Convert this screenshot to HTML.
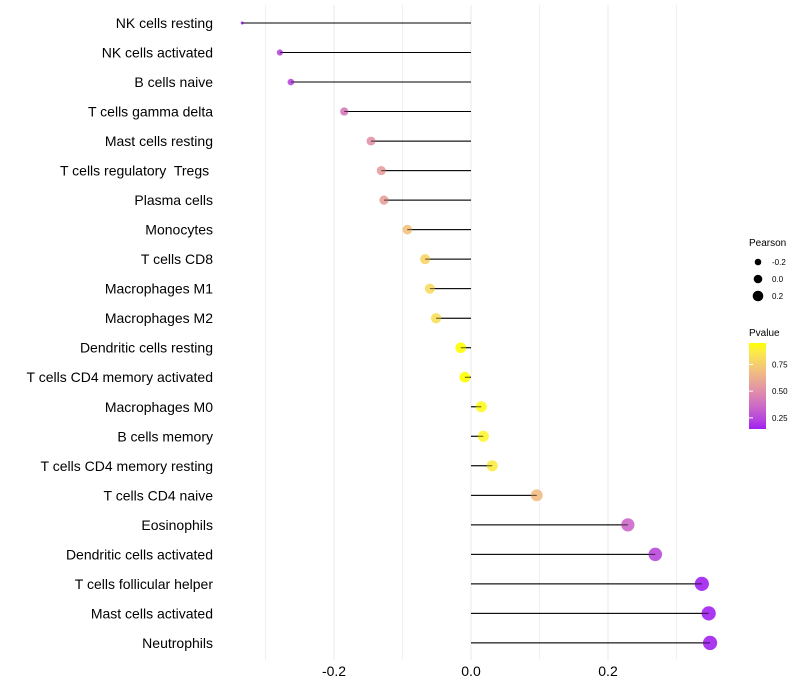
<!DOCTYPE html>
<html><head><meta charset="utf-8"><style>
body{margin:0;background:#fff;}
svg{display:block;font-family:"Liberation Sans",sans-serif;}
svg text{white-space:pre;}
</style></head><body>
<svg id="chart" width="800" height="700">
<defs><linearGradient id="pg" x1="0" y1="1" x2="0" y2="0"></linearGradient></defs>
<g id="grid"></g>
<g id="marks"></g>
<g id="ylabels"></g>
<g id="xlabels"></g>
<g>
<text x="749" y="246" font-size="10" fill="#000">Pearson</text>
<g id="sizeleg"></g>
</g>
<g>
<text x="749" y="336" font-size="10" fill="#000">Pvalue</text>
<rect x="749" y="343" width="17" height="86" fill="url(#pg)"/>
<g id="colleg"></g>
</g>
</svg>
<script>
const categories=["NK cells resting","NK cells activated","B cells naive","T cells gamma delta","Mast cells resting","T cells regulatory  Tregs ","Plasma cells","Monocytes","T cells CD8","Macrophages M1","Macrophages M2","Dendritic cells resting","T cells CD4 memory activated","Macrophages M0","B cells memory","T cells CD4 memory resting","T cells CD4 naive","Eosinophils","Dendritic cells activated","T cells follicular helper","Mast cells activated","Neutrophils"];
const pearson=[-0.334,-0.279,-0.263,-0.185,-0.146,-0.131,-0.127,-0.093,-0.067,-0.060,-0.051,-0.015,-0.009,0.015,0.018,0.031,0.096,0.229,0.269,0.337,0.347,0.349];
const pvalue=[0.15,0.25,0.25,0.42,0.52,0.56,0.57,0.70,0.78,0.80,0.82,0.96,0.97,0.93,0.91,0.87,0.68,0.35,0.25,0.15,0.15,0.15];
const xTicks=[-0.2,0,0.2];
const xTickLabels=["-0.2","0.0","0.2"];
const minorTicks=[-0.3,-0.1,0.1,0.3];
const sizeLegendVals=[-0.2,0,0.2];
const colorLegendVals=[0.25,0.5,0.75];
const colorLegendLabels=["0.25","0.50","0.75"];

const NS="http://www.w3.org/2000/svg";
const xs=v=>471+v*685;
const ys=i=>23+i*29.52;
const pearMin=Math.min(...pearson);
const rs=v=>1.5+6.8*Math.sqrt(Math.max(0,v-pearMin));
const rl=v=>4.3+5*v;
const pMin=0.146,pMax=0.95;
// Lab interpolation purple -> yellow
function s2l(c){c/=255;return c<=0.04045?c/12.92:Math.pow((c+0.055)/1.055,2.4);}
function l2s(c){c=c<=0.0031308?12.92*c:1.055*Math.pow(c,1/2.4)-0.055;return Math.round(Math.max(0,Math.min(1,c))*255);}
function toLab(rgb){const [r,g,b]=rgb.map(s2l);
let X=(0.4124*r+0.3576*g+0.1805*b)/0.95047,Y=0.2126*r+0.7152*g+0.0722*b,Z=(0.0193*r+0.1192*g+0.9505*b)/1.08883;
const f=t=>t>0.008856?Math.cbrt(t):7.787*t+16/116;X=f(X);Y=f(Y);Z=f(Z);
return [116*Y-16,500*(X-Y),200*(Y-Z)];}
function fromLab(L){let Y=(L[0]+16)/116,X=L[1]/500+Y,Z=Y-L[2]/200;
const fi=t=>t*t*t>0.008856?t*t*t:(t-16/116)/7.787;X=fi(X)*0.95047;Y=fi(Y);Z=fi(Z)*1.08883;
const r=3.2406*X-1.5372*Y-0.4986*Z,g=-0.9689*X+1.8758*Y+0.0415*Z,b=0.0557*X-0.2040*Y+1.0570*Z;
return [l2s(r),l2s(g),l2s(b)];}
const LA=toLab([160,32,240]),LB=toLab([255,255,0]);
function colT(t){t=Math.max(0,Math.min(1,t));return `rgb(${fromLab(LA.map((a,i)=>a+(LB[i]-a)*t))})`;}
function col(p){return colT((p-pMin)/(pMax-pMin));}
const grad=document.getElementById('pg');
for(let k=0;k<=10;k++){const s=document.createElementNS(NS,'stop');s.setAttribute('offset',k/10);s.setAttribute('stop-color',colT(k/10));grad.appendChild(s);}
function mk(tag,attrs,parent){const e=document.createElementNS(NS,tag);for(const k in attrs)e.setAttribute(k,attrs[k]);parent.appendChild(e);return e;}
const grid=document.getElementById('grid'),marks=document.getElementById('marks'),yl=document.getElementById('ylabels'),xl=document.getElementById('xlabels');
minorTicks.forEach(v=>{const l=mk('line',{x1:xs(v),x2:xs(v),y1:5,y2:660,stroke:'#f0f0f0','stroke-width':1},grid);

});
xTicks.forEach((v,i)=>{const l=mk('line',{x1:xs(v),x2:xs(v),y1:5,y2:660,stroke:'#e8e8e8','stroke-width':1},grid);


const t=mk('text',{x:xs(v),y:676,'font-size':14,'text-anchor':'middle',fill:'#000'},xl);t.textContent=xTickLabels[i];

});
categories.forEach((c,i)=>{const y=ys(i);
const t=mk('text',{x:213,y:y+5,'font-size':14,'text-anchor':'end',fill:'#000'},yl);t.textContent=c;


const l=mk('line',{x1:xs(0),x2:xs(pearson[i]),y1:y,y2:y,stroke:'#000','stroke-width':1},marks);


const d=mk('circle',{cx:xs(pearson[i]),cy:y,r:rs(pearson[i]),fill:col(pvalue[i]),'fill-opacity':0.9},marks);


const l2=mk('line',{x1:xs(0),x2:xs(pearson[i]),y1:y,y2:y,stroke:'#000','stroke-width':1,'stroke-opacity':0.6},marks);

});
const sl=document.getElementById('sizeleg');
sizeLegendVals.forEach((v,i)=>{const y=262+i*17;
const c=mk('circle',{cx:758,cy:y,r:rl(v),fill:'#000'},sl);


const t=mk('text',{x:772,y:y+3,'font-size':8,fill:'#000'},sl);t.textContent=xTickLabels[i];

});
const cl=document.getElementById('colleg');
colorLegendVals.forEach((v,i)=>{const y=429-(v-pMin)/(pMax-pMin)*86;
const tk=mk('line',{x1:749,x2:753,y1:y,y2:y,stroke:'#fff'},cl);


const t=mk('text',{x:772,y:y+3,'font-size':8,fill:'#000'},cl);t.textContent=colorLegendLabels[i];

});
</script>
</body></html>
